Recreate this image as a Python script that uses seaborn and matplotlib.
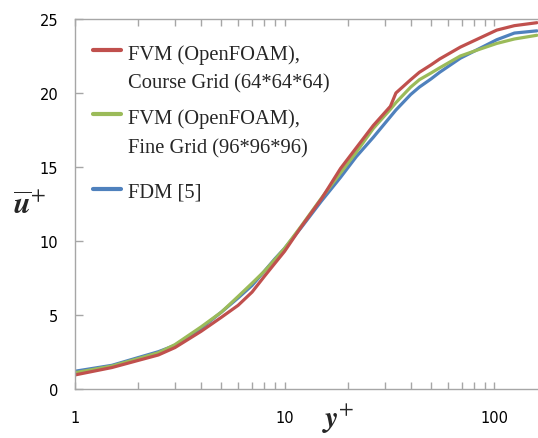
import numpy as np
import pandas as pd
import matplotlib
matplotlib.use("Agg")
import matplotlib.pyplot as plt
import seaborn as sns
from matplotlib.lines import Line2D
from matplotlib.legend_handler import HandlerLine2D
from matplotlib.font_manager import FontProperties
from matplotlib.ticker import FixedLocator, NullFormatter

# ---- data ----
y_plus = [1, 1.5, 2, 2.5, 3, 4, 5, 6, 7, 8, 9, 10, 12, 15, 18.5, 22, 26.5,
          32, 34, 40, 44, 50, 55, 69, 85, 103, 125, 160]
u_coarse = [0.95, 1.45, 1.93, 2.3, 2.8, 3.9, 4.85, 5.65, 6.55, 7.6, 8.5, 9.3,
            10.95, 12.85, 14.9, 16.3, 17.8, 19.1, 20.0, 20.9, 21.4, 21.9,
            22.3, 23.1, 23.7, 24.25, 24.55, 24.75]
u_fine = [1.1, 1.55, 2.05, 2.45, 3.0, 4.2, 5.2, 6.25, 7.15, 7.95, 8.75, 9.5,
          11.0, 12.9, 14.6, 16.0, 17.6, 18.9, 19.35, 20.4, 20.9, 21.35, 21.7,
          22.5, 22.95, 23.35, 23.65, 23.9]
u_fdm = [1.2, 1.6, 2.12, 2.52, 2.95, 4.1, 5.2, 6.15, 7.0, 7.95, 8.8, 9.5,
         10.9, 12.7, 14.3, 15.7, 17.0, 18.4, 18.85, 19.9, 20.4, 20.95, 21.4,
         22.35, 23.0, 23.6, 24.05, 24.2]
series_labels = ["FVM (OpenFOAM),\nCourse Grid (64*64*64)",
                 "FVM (OpenFOAM),\nFine Grid (96*96*96)",
                 "FDM [5]"]
x_ticks = [1, 10, 100]
x_tick_labels = ["1", "10", "100"]
y_ticks = [0, 5, 10, 15, 20, 25]
y_tick_labels = ["0", "5", "10", "15", "20", "25"]

colors = {series_labels[0]: "#C0504D",
          series_labels[1]: "#9BBB59",
          series_labels[2]: "#4F81BD"}

df = pd.concat([
    pd.DataFrame({"y": y_plus, "u": u_coarse, "series": series_labels[0]}),
    pd.DataFrame({"y": y_plus, "u": u_fine, "series": series_labels[1]}),
    pd.DataFrame({"y": y_plus, "u": u_fdm, "series": series_labels[2]}),
])

sns.set_theme(style="white")
plt.rcParams["font.family"] = ["DejaVu Sans"]
plt.rcParams["mathtext.fontset"] = "stix"

fig = plt.figure(figsize=(5.38, 4.39), dpi=100)
ax = fig.add_axes([75 / 538, 1 - 390 / 439, 463 / 538, 370 / 439])

sns.lineplot(data=df, x="y", y="u", hue="series",
             hue_order=[series_labels[2], series_labels[1], series_labels[0]],
             palette=colors, estimator=None, sort=False, linewidth=2.3,
             legend=False, ax=ax)
for ln in ax.lines:
    ln.set_solid_joinstyle("round")

ax.set_xscale("log")
ax.set_xlim(1, 162)
ax.set_ylim(0, 25)

ax.xaxis.set_major_locator(FixedLocator(x_ticks))
ax.set_xticklabels(x_tick_labels)
minor = [m * d for d in (1, 10, 100) for m in range(2, 10) if m * d < 162]
ax.xaxis.set_minor_locator(FixedLocator(minor))
ax.xaxis.set_minor_formatter(NullFormatter())
ax.set_yticks(y_ticks)
ax.set_yticklabels(y_tick_labels)

axis_gray = "#A6A6A6"
for side in ("left", "bottom", "top"):
    ax.spines[side].set_color(axis_gray)
    ax.spines[side].set_linewidth(1.0)
ax.spines["right"].set_visible(False)

ax.tick_params(axis="x", which="both", direction="in", top=True, bottom=True,
               color=axis_gray, length=5, width=1, labelcolor="black",
               labelsize=10.5, pad=15)
ax.tick_params(axis="y", which="major", direction="in", left=True, right=False,
               color=axis_gray, length=6, width=1, labelcolor="black",
               labelsize=10.5, pad=12)

ax.set_ylabel(r"$\overline{\mathbfit{u}}^{+}$", rotation=0, fontsize=22,
              ha="center", va="center")
ax.yaxis.set_label_coords(-0.098, 0.5)
ax.set_xlabel(r"$\mathbfit{y}^{+}$", fontsize=22, ha="center", va="center")
ax.xaxis.set_label_coords(0.568, -0.08)


class ShiftedLineHandler(HandlerLine2D):
    def __init__(self, dy, **kw):
        super().__init__(**kw)
        self.dy = dy

    def create_artists(self, legend, orig_handle, xdescent, ydescent, width,
                       height, fontsize, trans):
        arts = super().create_artists(legend, orig_handle, xdescent, ydescent,
                                      width, height, fontsize, trans)
        for a in arts:
            a.set_ydata(np.asarray(a.get_ydata(), float) + self.dy)
        return arts


leg_font = FontProperties(family="Liberation Serif", size=14.8)
h_red = Line2D([], [], color=colors[series_labels[0]], lw=3)
h_green = Line2D([], [], color=colors[series_labels[1]], lw=3)
h_blue = Line2D([], [], color=colors[series_labels[2]], lw=3)

common = dict(loc="upper left", frameon=False, borderpad=0, borderaxespad=0,
              handlelength=1.37, handletextpad=0.35, prop=leg_font)
leg1 = ax.legend(handles=[h_red, h_green], labels=series_labels[:2],
                 bbox_to_anchor=(0.039, 0.933), labelspacing=0.75,
                 handler_map={h_red: ShiftedLineHandler(13),
                              h_green: ShiftedLineHandler(13)}, **common)
for t in leg1.get_texts():
    t.set_linespacing(1.7)
ax.add_artist(leg1)
leg2 = ax.legend(handles=[h_blue], labels=[series_labels[2]],
                 bbox_to_anchor=(0.039, 0.559), **common)

fig.savefig("out.png", dpi=100)
